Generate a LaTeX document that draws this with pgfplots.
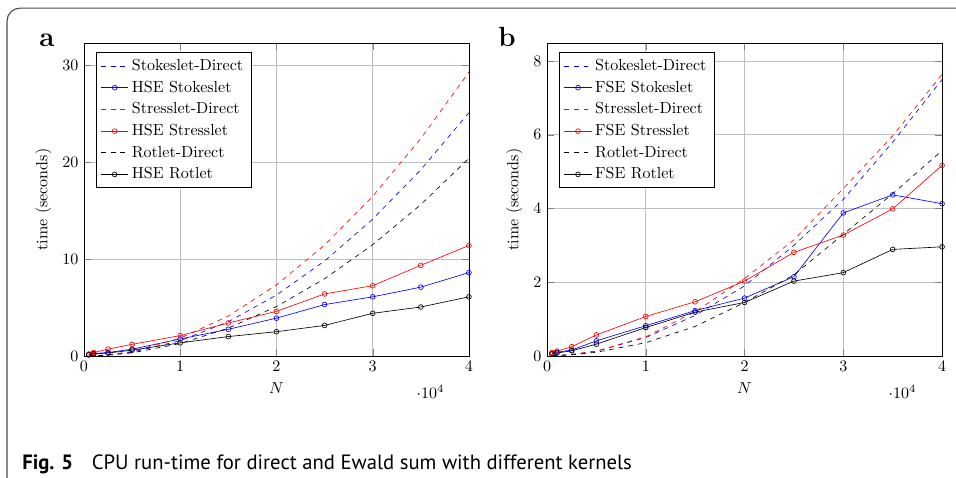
\documentclass[border=0pt]{standalone}
\usepackage{fontspec}
\newfontfamily\capfont{PT Sans}
\usepackage{pgfplots}
\usepackage{pgfplotstable}
\pgfplotsset{compat=1.18}

% N, Stokeslet direct, HSE Stokeslet, Stresslet direct, HSE Stresslet, Rotlet direct, HSE Rotlet
\pgfplotstableread{
N     sd     hs    rd     hr    od     ho
500   0.0039 0.15  0.0046 0.20  0.0032 0.10
1000  0.0157 0.25  0.018  0.35  0.0128 0.20
2500  0.098  0.35  0.114  0.70  0.080  0.30
5000  0.392  0.70  0.458  1.20  0.319  0.60
10000 1.57   1.75  1.83   2.10  1.275  1.35
15000 3.53   2.75  4.12   3.40  2.87   2.00
20000 6.28   3.90  7.33   4.60  5.10   2.50
25000 9.80   5.30  11.44  6.40  7.97   3.15
30000 14.12  6.10  16.48  7.25  11.48  4.40
35000 19.22  7.10  22.43  9.35  15.62  5.05
40000 25.10  8.60  29.30  11.40 20.40  6.10
}\hsedata

\pgfplotstableread{
N     sd     fs    rd     fr    od     fo
500   0.003  0.07  0.003  0.09  0.002  0.05
1000  0.010  0.10  0.010  0.13  0.008  0.08
2500  0.040  0.16  0.040  0.25  0.030  0.14
5000  0.130  0.41  0.130  0.57  0.100  0.32
10000 0.50   0.82  0.52   1.07  0.36   0.77
15000 1.10   1.23  1.20   1.47  0.80   1.19
20000 1.90   1.57  2.10   2.03  1.45   1.45
25000 3.00   2.15  3.15   2.81  2.20   2.03
30000 4.25   3.88  4.54   3.28  3.30   2.26
35000 5.80   4.37  5.97   3.99  4.40   2.89
40000 7.50   4.13  7.64   5.17  5.57   2.96
}\fsedata

\pgfplotsset{
 runtime/.style={scale only axis,height=195.2pt,xmin=0,xmax=40000,ymin=0,
  xtick={0,10000,20000,30000,40000},
  grid=major,xlabel={$N$},ylabel={time (seconds)},
  legend pos=north west,legend cell align=left,
  legend style={row sep=1pt},mark size=1.5pt},
 direct/.style={dashed,no marks},
 ewald/.style={solid,mark=o,mark options={solid}}
}

\begin{document}
\begin{tikzpicture}
\useasboundingbox (0,0) rectangle (596.3pt,298.1pt);
\draw[black!70,line width=0.7pt] (4.4pt,0) -- (4.4pt,285pt) arc[start angle=180,end angle=90,radius=8pt] -- (596.3pt,293pt);

\node[anchor=base,font=\LARGE\bfseries] at (29.3pt,268.8pt) {a};
\node[anchor=base,font=\LARGE\bfseries] at (316.2pt,268.8pt) {b};
\node[anchor=base west,inner sep=0pt,font=\capfont\fontsize{12.9}{14}\selectfont] at (13.7pt,5pt) {\textbf{Fig. 5}\hspace{0.9em}CPU run-time for direct and Ewald sum with different kernels};

\begin{axis}[runtime,at={(52.39pt,76.09pt)},anchor=south west,width=240.1pt,ymax=32.3,ytick={0,10,20,30}]
\addplot[blue,direct] table[x=N,y=sd] {\hsedata};
\addlegendentry{Stokeslet-Direct}
\addplot[blue,ewald] table[x=N,y=hs] {\hsedata};
\addlegendentry{HSE Stokeslet}
\addplot[red,direct] table[x=N,y=rd] {\hsedata};
\addlegendentry{Stresslet-Direct}
\addplot[red,ewald] table[x=N,y=hr] {\hsedata};
\addlegendentry{HSE Stresslet}
\addplot[black,direct] table[x=N,y=od] {\hsedata};
\addlegendentry{Rotlet-Direct}
\addplot[black,ewald] table[x=N,y=ho] {\hsedata};
\addlegendentry{HSE Rotlet}
\end{axis}

\begin{axis}[runtime,at={(341.2pt,76.09pt)},anchor=south west,width=246.4pt,ymax=8.49,ytick={0,2,4,6,8}]
\addplot[blue,direct] table[x=N,y=sd] {\fsedata};
\addlegendentry{Stokeslet-Direct}
\addplot[blue,ewald] table[x=N,y=fs] {\fsedata};
\addlegendentry{FSE Stokeslet}
\addplot[red,direct] table[x=N,y=rd] {\fsedata};
\addlegendentry{Stresslet-Direct}
\addplot[red,ewald] table[x=N,y=fr] {\fsedata};
\addlegendentry{FSE Stresslet}
\addplot[black,direct] table[x=N,y=od] {\fsedata};
\addlegendentry{Rotlet-Direct}
\addplot[black,ewald] table[x=N,y=fo] {\fsedata};
\addlegendentry{FSE Rotlet}
\end{axis}
\end{tikzpicture}
\end{document}
